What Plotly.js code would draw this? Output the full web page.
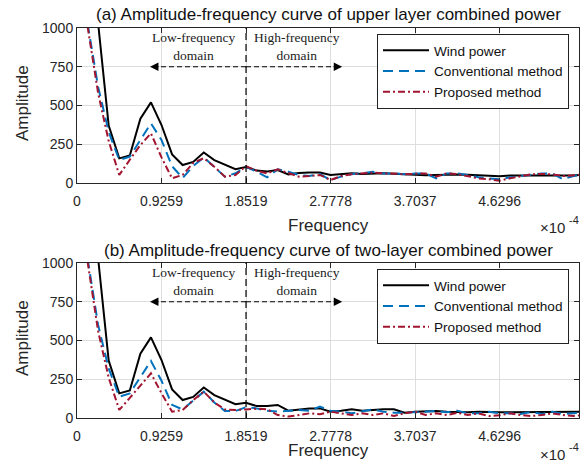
<!DOCTYPE html>
<html>
<head>
<meta charset="utf-8">
<script src="https://cdn.plot.ly/plotly-3.0.1.min.js"></script>
<style>html,body{margin:0;padding:0;background:#fff;}#chart{width:587px;height:470px;}</style>
</head>
<body>
<div id="chart"></div>
<script>
// Frequency (x 10^-4 Hz)
const frequency = [0.1157,0.2315,0.3472,0.4630,0.5787,0.6944,0.8102,0.9259,1.0417,1.1574,1.2731,1.3889,1.5046,1.6204,1.7361,1.8519,
  1.9676,2.0833,2.1991,2.3148,2.4306,2.5463,2.6620,2.7778,2.8935,3.0093,3.1250,3.2407,3.3565,3.4722,3.5880,3.7037,
  3.8194,3.9352,4.0509,4.1667,4.2824,4.3981,4.5139,4.6296,4.7454,4.8611,4.9769,5.0926,5.2083,5.3241,5.4398,5.5556];

// (a) upper layer combined power
const windA = [2500,1030,370,159,178,415,520,374,185,116,136,197,148,121,89,103,
  80,75,84,55,65,67,68,52,58,63,58,60,63,60,56,55,
  50,52,55,55,53,50,45,43,48,48,50,47,47,47,48,55];
const convA = [1030,620,330,148,170,278,385,277,108,32,110,165,100,41,63,105,
  73,37,88,73,52,45,58,19,41,58,62,73,62,62,56,62,
  62,30,62,62,52,37,30,24,37,45,56,62,62,24,45,55];
const propA = [1010,580,270,52,150,245,320,165,30,52,130,160,105,41,52,108,
  80,62,88,62,41,45,52,19,45,56,62,67,62,62,56,58,
  62,41,62,58,45,30,24,15,30,41,56,58,56,45,52,55];

// (b) two-layer combined power
const windB = [2500,1030,370,159,178,415,520,374,185,116,136,197,148,121,89,98,
  77,77,84,47,56,62,62,41,47,56,47,52,56,56,34,41,
  45,45,41,37,37,41,37,37,37,37,37,37,37,37,37,40];
const convB = [1030,600,320,137,159,260,368,240,85,55,110,170,100,45,45,70,
  62,47,41,47,52,47,73,47,41,30,41,56,41,34,34,38,
  41,45,37,47,30,30,41,30,30,26,39,26,41,26,30,35];
const propB = [1010,560,260,52,130,210,288,160,41,52,115,170,100,55,52,55,
  60,56,19,9,19,30,24,41,30,19,30,19,30,13,30,41,
  19,30,19,34,19,30,13,17,30,19,13,19,30,19,13,20];

const seriesNames = ['Wind power','Conventional method','Proposed method'];
const tickVals = [0,0.9259,1.8519,2.7778,3.7037,4.6296];
const tickText = ['0','0.9259','1.8519','2.7778','3.7037','4.6296'];
const yTicks = [0,250,500,750,1000];

const colors = ['#000000','#0072BD','#A2142F'];
const dashes = ['solid','10px,6px','7px,3px,2px,3px'];

function mk(y, i, xa, ya, leg) {
  return {x: frequency, y: y, type:'scatter', mode:'lines', name: seriesNames[i],
    xaxis: xa, yaxis: ya, legend: leg,
    line:{color: colors[i], width: 2, dash: dashes[i]}};
}

const traces = [
  mk(windA,0,'x','y','legend'), mk(convA,1,'x','y','legend'), mk(propA,2,'x','y','legend'),
  mk(windB,0,'x2','y2','legend2'), mk(convB,1,'x2','y2','legend2'), mk(propB,2,'x2','y2','legend2')
];

const FONT = 'Liberation Sans, Arial, sans-serif';
const SERIF = 'Liberation Serif, Times New Roman, serif';
const TXT = '#262626';

function xax(anchor) {
  return {domain:[77/587, 579/587], anchor: anchor, range:[0,5.5], tickvals: tickVals, ticktext: tickText,
    ticks:'inside', ticklen:5, tickcolor:TXT, showline:true, linecolor:TXT, linewidth:1, mirror:'ticks',
    showgrid:true, gridcolor:'#dedede', gridwidth:1, zeroline:false, ticklabelstandoff:5,
    tickfont:{family:FONT, size:14, color:TXT}};
}
function yax(dom, anchor) {
  return {domain: dom, anchor: anchor, range:[0,1000], tickvals: yTicks,
    ticks:'inside', ticklen:5, tickcolor:TXT, showline:true, linecolor:TXT, linewidth:1, mirror:'ticks',
    showgrid:true, gridcolor:'#dedede', gridwidth:1, zeroline:false,
    tickfont:{family:FONT, size:14, color:TXT}};
}

const domA = [1-183/470, 1-28/470];
const domB = [1-418/470, 1-263/470];

function panelShapes(xr, yr, ydr) {
  return [
    {type:'line', xref:xr, yref:ydr, x0:1.8519, x1:1.8519, y0:0, y1:1, line:{color:'#000', width:1.2, dash:'7px,4px'}},
    {type:'line', xref:xr, yref:yr, x0:1.8519, x1:0.86, y0:750, y1:750, line:{color:'#000', width:1, dash:'5px,3px'}},
    {type:'line', xref:xr, yref:yr, x0:1.8519, x1:2.85, y0:750, y1:750, line:{color:'#000', width:1, dash:'5px,3px'}}
  ];
}
function panelAnn(xr, yr, ydr, expOffset) {
  return [
    {xref:xr, yref:yr, x:1.272, y:880, xanchor:'center', yanchor:'middle', text:'Low-frequency<br>domain', showarrow:false,
      font:{family:SERIF, size:13.5, color:'#222'}},
    {xref:xr, yref:yr, x:2.41, y:880, xanchor:'center', yanchor:'middle', text:'High-frequency<br>domain', showarrow:false,
      font:{family:SERIF, size:13.5, color:'#222'}},
    {xref:xr, yref:yr, x:0.80, y:750, ax:10, ay:0, text:'', showarrow:true, arrowhead:2, arrowsize:1.4, arrowwidth:1.2, arrowcolor:'#000'},
    {xref:xr, yref:yr, x:2.905, y:750, ax:-10, ay:0, text:'', showarrow:true, arrowhead:2, arrowsize:1.4, arrowwidth:1.2, arrowcolor:'#000'},
    // axis exponent label, placed relative to the plot area (below the x axis)
    {xref:'paper', yref:ydr, x:552/587, y:-expOffset/155, xanchor:'center', yanchor:'middle', text:'×10', showarrow:false,
      font:{family:FONT, size:15, color:TXT}},
    {xref:'paper', yref:ydr, x:574/587, y:-(expOffset-7)/155, xanchor:'center', yanchor:'middle', text:'-4', showarrow:false,
      font:{family:FONT, size:11, color:TXT}}
  ];
}

const legendCfg = (ytop) => ({x:377/587, y:ytop, xanchor:'left', yanchor:'top', bgcolor:'#fff',
  bordercolor:'#222', borderwidth:1, font:{family:FONT, size:13.6, color:'#111'}, itemwidth:46, tracegroupgap:0});

const axTitleFont = {family:FONT, size:17, color:TXT};
function pa(x, y, text, font, extra) {
  return Object.assign({xref:'paper', yref:'paper', x:x/587, y:1-y/470, xanchor:'center', yanchor:'middle',
    text:text, showarrow:false, font:font}, extra || {});
}
const layout = {
  width:587, height:470, margin:{l:0,r:0,t:0,b:0}, paper_bgcolor:'#fff', plot_bgcolor:'#fff',
  showlegend:true,
  xaxis: xax('y'), yaxis: yax(domA,'x'),
  xaxis2: xax('y2'), yaxis2: yax(domB,'x2'),
  legend: legendCfg(1-34/470), legend2: legendCfg(1-269/470),
  shapes: [...panelShapes('x','y','y domain'), ...panelShapes('x2','y2','y2 domain')],
  annotations: [
    pa(328, 15, '(a) Amplitude-frequency curve of upper layer combined power', {family:FONT, size:17, color:'#111'}),
    pa(328, 250, '(b) Amplitude-frequency curve of two-layer combined power', {family:FONT, size:17, color:'#111'}),
    pa(328, 226, 'Frequency', axTitleFont),
    pa(328, 450, 'Frequency', axTitleFont),
    pa(22, 103, 'Amplitude', axTitleFont, {textangle:-90}),
    pa(22, 338, 'Amplitude', axTitleFont, {textangle:-90}),
    ...panelAnn('x','y','y domain', 44), ...panelAnn('x2','y2','y2 domain', 36)
  ]
};

Plotly.newPlot('chart', traces, layout, {displayModeBar:false, staticPlot:true});
</script>
</body>
</html>
